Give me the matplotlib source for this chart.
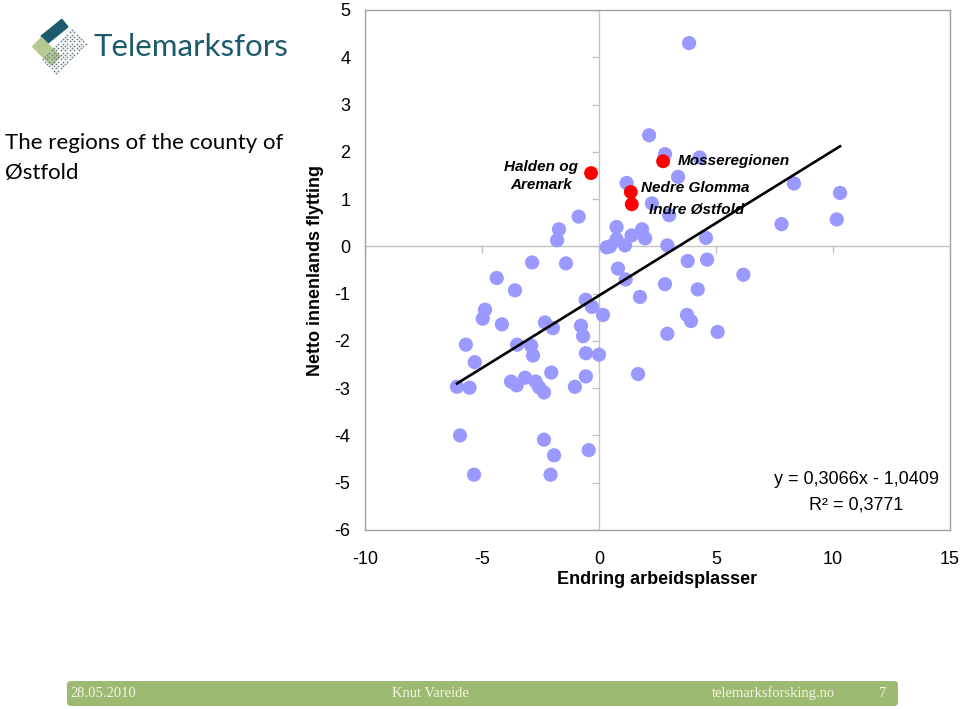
import numpy as np
import matplotlib
matplotlib.use("Agg")
import matplotlib.pyplot as plt
from matplotlib.patches import FancyBboxPatch, Polygon

plt.rcParams['font.family'] = ['Liberation Sans', 'DejaVu Sans']
plt.rcParams['axes.unicode_minus'] = False

# ---------------------------------------------------------------------
# Data: change in jobs (x) vs net domestic migration (y)
x_other = [3.85, 2.14, 2.82, 4.30, 3.38, 1.18, 8.33, 10.30, 2.26, 3.00,
           -0.87, 7.80, 10.16, 0.75, -1.71, -1.79, 1.39, 1.84, 1.97, 0.75,
           1.11, 0.33, 0.47, 2.92, 4.57, -4.37, -2.86, -1.41, 0.81, 3.79,
           4.62, 6.17, -3.59, 1.14, 2.82, 4.22, -0.57, -0.30, 1.75, -4.87,
           -4.97, -4.15, 0.17, -2.31, -1.97, -0.77, -0.68, 3.76, 3.93, 2.92,
           5.07, -5.69, -3.50, -2.90, -2.82, -0.56, 0.00, -5.31, -6.07, -5.53,
           -3.76, -3.52, -3.16, -2.71, -2.56, -2.35, -2.04, -1.03, -0.56, 1.67,
           -5.94, -2.35, -1.92, -0.44, -5.34, -2.07]
y_other = [4.30, 2.35, 1.95, 1.88, 1.47, 1.34, 1.33, 1.13, 0.91, 0.66,
           0.63, 0.47, 0.57, 0.41, 0.36, 0.13, 0.23, 0.36, 0.17, 0.15,
           0.02, -0.02, 0.00, 0.02, 0.18, -0.67, -0.34, -0.36, -0.47, -0.31,
           -0.28, -0.60, -0.93, -0.70, -0.80, -0.91, -1.13, -1.28, -1.07, -1.34,
           -1.53, -1.65, -1.45, -1.61, -1.73, -1.68, -1.90, -1.45, -1.58, -1.85,
           -1.81, -2.08, -2.08, -2.10, -2.31, -2.26, -2.29, -2.45, -2.97, -2.99,
           -2.86, -2.94, -2.78, -2.86, -2.98, -3.09, -2.67, -2.97, -2.75, -2.70,
           -4.00, -4.09, -4.42, -4.31, -4.83, -4.83]

region_names = ['Halden og\nAremark', 'Mosseregionen', 'Nedre Glomma', 'Indre Østfold']
x_region = [-0.34, 2.74, 1.36, 1.40]
y_region = [1.55, 1.80, 1.15, 0.89]

slope = 0.3066
intercept = -1.0409
r_squared = 0.3771

x_ticks = [-10, -5, 0, 5, 10, 15]
y_ticks = [-6, -5, -4, -3, -2, -1, 0, 1, 2, 3, 4, 5]

W, H = 960, 709
fig = plt.figure(figsize=(W / 100, H / 100), dpi=100)

# overlay in pixel coordinates for logo, title and footer
bg = fig.add_axes([0, 0, 1, 1])
bg.set_xlim(0, W)
bg.set_ylim(H, 0)
bg.axis('off')

# --- logo -------------------------------------------------------------
u1 = np.array([-1.0, 1.0]) / np.sqrt(2)
u2 = np.array([1.0, 1.0]) / np.sqrt(2)
top = np.array([72.0, 30.0])
dots = np.array([top + i * 3.2 * u1 + j * 3.2 * u2
                 for i in range(14) for j in range(7)])
bg.plot(dots[:, 0], dots[:, 1], 'o', ms=1.3, color='#6c7f8c', mew=0)


def bar(c, d, length, width, color):
    c = np.array(c, dtype=float)
    d = np.array(d, dtype=float)
    d = d / np.hypot(*d)
    n = np.array([-d[1], d[0]])
    pts = [c + d * length / 2 + n * width / 2, c + d * length / 2 - n * width / 2,
           c - d * length / 2 - n * width / 2, c - d * length / 2 + n * width / 2]
    bg.add_patch(Polygon(pts, closed=True, fc=color, ec=color, lw=1.5,
                         joinstyle='round'))


bar((54.5, 31.5), (21, -17), 26, 9, '#1d5a6d')
bar((46.5, 51.5), (19, 19), 26, 12, '#b6c993')
bg.text(93, 56, 'Telemarksfors', fontfamily='Lato', fontsize=22.5,
        color='#1d5a6d', ha='left', va='baseline')

# --- title --------------------------------------------------------------
bg.text(5, 158, 'The regions of the county of\nØstfold', fontfamily='Lato',
        fontsize=16, color='black', ha='left', va='center', linespacing=1.6)

# --- footer -------------------------------------------------------------
bg.add_patch(FancyBboxPatch((67, 681), 831, 25,
                            boxstyle='round,pad=0,rounding_size=4',
                            fc='#9cba72', ec='none'))
foot = dict(fontfamily='Liberation Serif', fontsize=10.5, color='#f6f3e0',
            va='center')
bg.text(70, 693.5, '28.05.2010', ha='left', **foot)
bg.text(430, 693.5, 'Knut Vareide', ha='center', **foot)
bg.text(712, 693.5, 'telemarksforsking.no', ha='left', **foot)
bg.text(883, 693.5, '7', ha='center', **foot)

# --- axis titles and trend equation -------------------------------------
bg.text(315, 270, 'Netto innenlands flytting', rotation=90, fontsize=13,
        fontweight='bold', ha='center', va='center')
bg.text(657, 579, 'Endring arbeidsplasser', fontsize=13, fontweight='bold',
        ha='center', va='center')
bg.text(856.5, 479, 'y = %sx - %s' % (str(slope).replace('.', ','),
                                      str(-intercept).replace('.', ',')),
        fontsize=13, ha='center', va='center')
bg.text(856.5, 505, 'R² = %s' % str(r_squared).replace('.', ','),
        fontsize=13, ha='center', va='center')

# --- scatter ------------------------------------------------------------
ax = fig.add_axes([365 / W, (H - 530) / H, 585 / W, 520 / H])
ax.set_facecolor('none')
ax.set_xlim(x_ticks[0], x_ticks[-1])
ax.set_ylim(y_ticks[0], y_ticks[-1])

for s in ax.spines.values():
    s.set_color('#a0a0a0')
    s.set_linewidth(1)

ax.axhline(0, color='#c4c4c4', lw=1, zorder=1)
ax.axvline(0, color='#c4c4c4', lw=1, zorder=1)
ax.plot(np.zeros(len(y_ticks)), y_ticks, ls='none', marker=0, ms=5, mew=1,
        color='#c4c4c4', zorder=1)
ax.plot(x_ticks, np.zeros(len(x_ticks)), ls='none', marker=3, ms=5, mew=1,
        color='#c4c4c4', zorder=1)

ax.set_xticks(x_ticks)
ax.set_yticks(y_ticks)
ax.tick_params(axis='both', length=0, labelsize=13)
ax.tick_params(axis='x', pad=15)
ax.tick_params(axis='y', pad=10.5)

ax.scatter(x_other, y_other, s=105, color='#9999ff', edgecolors='none',
           zorder=3)
ax.scatter(x_region, y_region, s=100, color='#ff0000', edgecolors='none',
           zorder=4)

all_x = np.array(x_other + x_region)
xl = np.array([all_x.min(), all_x.max()])
ax.plot(xl, slope * xl + intercept, color='black', lw=1.9, zorder=5)

offsets = [(-50, -3), (15, 0), (10, 4), (17, -6)]
aligns = ['center', 'left', 'left', 'left']
for name, x, y, off, ha in zip(region_names, x_region, y_region, offsets, aligns):
    ax.annotate(name, (x, y), xytext=off, textcoords='offset pixels',
                ha=ha, va='center', fontsize=11, fontweight='bold',
                fontstyle='italic', linespacing=1.3, zorder=6)

fig.savefig('out.png', dpi=100)
